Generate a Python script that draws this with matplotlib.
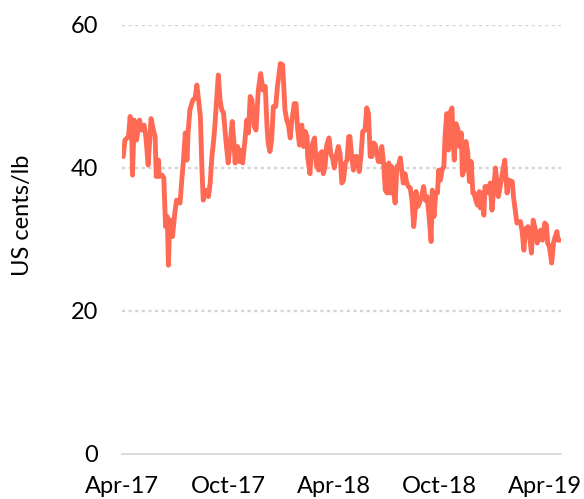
import matplotlib
matplotlib.use("Agg")
import matplotlib.pyplot as plt
import matplotlib.dates as mdates
import pandas as pd

dates = [
    "2017-04-03", "2017-04-06", "2017-04-12", "2017-04-15", "2017-04-18", "2017-04-19",
    "2017-04-22", "2017-04-26", "2017-05-01", "2017-05-05", "2017-05-09", "2017-05-12",
    "2017-05-16", "2017-05-21", "2017-05-25", "2017-05-28", "2017-05-30", "2017-06-03",
    "2017-06-04", "2017-06-09", "2017-06-12", "2017-06-15", "2017-06-18", "2017-06-20",
    "2017-06-22", "2017-06-24", "2017-06-27", "2017-07-01", "2017-07-04", "2017-07-10",
    "2017-07-13", "2017-07-16", "2017-07-19", "2017-07-22", "2017-07-24", "2017-07-27",
    "2017-08-01", "2017-08-05", "2017-08-08", "2017-08-11", "2017-08-14", "2017-08-17",
    "2017-08-19", "2017-08-24", "2017-08-28", "2017-08-31", "2017-09-03", "2017-09-06",
    "2017-09-08", "2017-09-11", "2017-09-14", "2017-09-17", "2017-09-20", "2017-09-23",
    "2017-09-27", "2017-10-01", "2017-10-04", "2017-10-08", "2017-10-11", "2017-10-13",
    "2017-10-17", "2017-10-20", "2017-10-23", "2017-10-26", "2017-10-30", "2017-11-02",
    "2017-11-05", "2017-11-08", "2017-11-11", "2017-11-15", "2017-11-18", "2017-11-22",
    "2017-11-26", "2017-11-30", "2017-12-04", "2017-12-07", "2017-12-09", "2017-12-12",
    "2017-12-15", "2017-12-18", "2017-12-22", "2017-12-25", "2017-12-30",
    "2018-01-03", "2018-01-04", "2018-01-07", "2018-01-10", "2018-01-13", "2018-01-16",
    "2018-01-19", "2018-01-23", "2018-01-26", "2018-01-29", "2018-02-01", "2018-02-05",
    "2018-02-08", "2018-02-11", "2018-02-14", "2018-02-15", "2018-02-19", "2018-02-22",
    "2018-02-27", "2018-03-02", "2018-03-06", "2018-03-09", "2018-03-12", "2018-03-14",
    "2018-03-17", "2018-03-20", "2018-03-24", "2018-03-27", "2018-03-30", "2018-04-02",
    "2018-04-05", "2018-04-09", "2018-04-12", "2018-04-15", "2018-04-18", "2018-04-21",
    "2018-04-24", "2018-04-27", "2018-04-29", "2018-05-02", "2018-05-05", "2018-05-08",
    "2018-05-11", "2018-05-15", "2018-05-18", "2018-05-21", "2018-05-25", "2018-05-28",
    "2018-05-31", "2018-06-03", "2018-06-06", "2018-06-09", "2018-06-12", "2018-06-15",
    "2018-06-17", "2018-06-20", "2018-06-23", "2018-06-26", "2018-06-29", "2018-07-02",
    "2018-07-05", "2018-07-08", "2018-07-10", "2018-07-13", "2018-07-16", "2018-07-19",
    "2018-07-22", "2018-07-25", "2018-07-28", "2018-07-30", "2018-08-02", "2018-08-05",
    "2018-08-08", "2018-08-11", "2018-08-14", "2018-08-17", "2018-08-20", "2018-08-21",
    "2018-08-24", "2018-08-27", "2018-08-31", "2018-09-03", "2018-09-06", "2018-09-09",
    "2018-09-12", "2018-09-16", "2018-09-18", "2018-09-21", "2018-09-24", "2018-09-27",
    "2018-09-29", "2018-10-02", "2018-10-05", "2018-10-08", "2018-10-10", "2018-10-13",
    "2018-10-16", "2018-10-18", "2018-10-22", "2018-10-24", "2018-10-26", "2018-10-29",
    "2018-11-01", "2018-11-04", "2018-11-07", "2018-11-09", "2018-11-12", "2018-11-15",
    "2018-11-18", "2018-11-21", "2018-11-24", "2018-11-27", "2018-11-29", "2018-12-02",
    "2018-12-05", "2018-12-08", "2018-12-10", "2018-12-13", "2018-12-16", "2018-12-18",
    "2018-12-22", "2018-12-25", "2018-12-27", "2018-12-30",
    "2019-01-05", "2019-01-10", "2019-01-16", "2019-01-21", "2019-01-25", "2019-01-28",
    "2019-02-03", "2019-02-05", "2019-02-11", "2019-02-17", "2019-02-20", "2019-02-23",
    "2019-02-26", "2019-03-02", "2019-03-05", "2019-03-08", "2019-03-11", "2019-03-15",
    "2019-03-18", "2019-03-21", "2019-03-24", "2019-03-27", "2019-03-31", "2019-04-03",
    "2019-04-05", "2019-04-08", "2019-04-12", "2019-04-15", "2019-04-18", "2019-04-21",
    "2019-04-23", "2019-04-26",
]

prices = [
    41.6, 43.9, 44.4, 47.2, 43.5, 39.0,
    46.7, 43.9, 46.7, 45.3, 46.0, 44.4,
    40.4, 46.9, 45.3, 44.4, 38.8, 41.1,
    38.8, 39.0, 38.6, 31.8, 33.2, 26.4,
    32.0, 32.7, 30.4, 33.7, 35.5, 35.1,
    38.3, 41.1, 44.9, 41.1, 45.1, 48.1,
    49.5, 49.8, 51.6, 49.5, 47.2, 39.3,
    35.5, 36.9, 36.0, 37.9, 41.6, 43.9,
    45.8, 49.5, 53.0, 49.5, 48.1, 47.7,
    43.9, 40.7, 43.0, 46.5, 43.5, 40.7,
    43.0, 40.9, 42.5, 40.7, 43.9, 46.7,
    44.9, 50.0, 49.5, 45.8, 45.3, 50.9,
    53.2, 50.9, 51.4, 45.8, 43.5, 42.3,
    43.9, 48.6, 48.6, 51.4, 54.6,
    54.4, 52.8, 48.1, 46.7, 46.0, 44.2,
    46.7, 49.0, 49.0, 45.3, 43.2, 46.0,
    43.0, 45.1, 44.4, 41.6, 39.2, 43.0,
    44.2, 40.4, 39.7, 42.0, 42.3, 39.2,
    40.2, 43.2, 44.2, 42.0, 41.4, 40.0,
    41.6, 43.0, 42.0, 37.9, 38.3, 40.7,
    41.1, 44.4, 44.4, 41.6, 39.7, 41.6,
    41.6, 39.5, 41.6, 45.1, 45.3, 48.4,
    47.6, 41.6, 41.6, 43.5, 43.2, 41.8,
    40.9, 40.9, 43.0, 40.7, 36.9, 36.5,
    40.7, 36.5, 40.2, 36.9, 35.1, 40.2,
    40.4, 41.4, 39.2, 37.9, 39.2, 37.9,
    37.4, 37.2, 35.5, 31.8, 34.6, 36.7,
    34.6, 35.1, 36.2, 37.4, 35.5, 36.0,
    33.7, 29.7, 36.9, 33.2, 36.5, 36.5,
    39.7, 38.3, 39.7, 40.2, 44.4, 47.6,
    42.5, 47.6, 48.4, 43.9, 41.1, 46.2,
    45.5, 43.0, 44.9, 39.0, 39.7, 43.7,
    42.3, 38.1, 40.9, 36.5, 36.5, 35.5,
    34.8, 36.7, 34.4, 36.5, 33.4, 37.4,
    37.4, 36.5, 37.9, 34.1,
    40.0, 36.0, 38.8, 41.1, 36.5, 38.3,
    38.1, 36.0, 32.3, 32.5, 31.1, 28.5,
    31.5, 31.8, 30.4, 28.1, 32.7, 31.3,
    29.5, 30.4, 31.3, 29.9, 32.3, 32.0,
    29.5, 29.0, 26.7, 29.5, 30.4, 31.1,
    29.9, 29.9,
]

y_ticks = [0, 20, 40, 60]
x_tick_dates = ["2017-04-01", "2017-10-01", "2018-04-01", "2018-10-01", "2019-04-01"]
x_range = ["2017-04-01", "2019-04-28"]
y_label = "US cents/lb"

plt.rcParams['font.family'] = ['Lato', 'DejaVu Sans']

fig = plt.figure(figsize=(5.84, 4.99), dpi=100)
ax = fig.add_axes([0.209, 0.0902, 0.7516, 0.8598])

x = pd.to_datetime(dates)
ax.plot(x, prices, color="#FF6A55", lw=3.5, solid_joinstyle="round", solid_capstyle="round", zorder=3)

ax.set_ylim(0, 60)
ax.set_yticks(y_ticks)
ax.set_xlim(pd.to_datetime(x_range[0]), pd.to_datetime(x_range[1]))
ax.set_xticks(pd.to_datetime(x_tick_dates))
ax.xaxis.set_major_formatter(mdates.DateFormatter("%b-%y"))

for v in y_ticks[1:]:
    ax.axhline(v, color="#d4d4d4", lw=1.7, linestyle=(0, (1.3, 1.5)), zorder=1)

for s in ["top", "right", "left"]:
    ax.spines[s].set_visible(False)
ax.spines["bottom"].set_color("#d9d9d9")
ax.spines["bottom"].set_linewidth(1.3)

ax.tick_params(axis="both", length=0, labelsize=17, colors="black")
ax.tick_params(axis="y", pad=17)
ax.tick_params(axis="x", pad=16)

ax.set_ylabel(y_label, fontsize=17)
ax.yaxis.set_label_coords(-0.203, 0.557)

fig.savefig("out.png", dpi=100)
